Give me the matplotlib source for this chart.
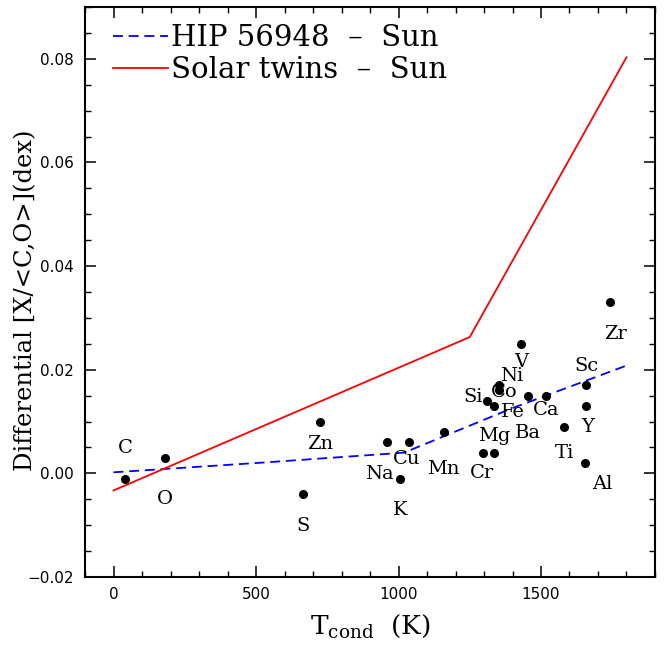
import matplotlib
matplotlib.use('Agg')
import matplotlib.pyplot as plt
from matplotlib.ticker import MultipleLocator, FuncFormatter

# Element abundances vs condensation temperature
elements = ['C', 'O', 'S', 'Zn', 'Na', 'Cu', 'K', 'Mn', 'Cr', 'Mg', 'Si',
            'Fe', 'Co', 'Ni', 'V', 'Ba', 'Ca', 'Ti', 'Sc', 'Y', 'Al', 'Zr']
tcond = [40, 180, 664, 726, 958, 1037, 1006, 1158, 1296, 1336, 1310,
         1334, 1352, 1353, 1429, 1455, 1517, 1582, 1659, 1659, 1653, 1741]
diff = [-0.001, 0.003, -0.004, 0.010, 0.006, 0.006, -0.001, 0.008, 0.004, 0.004, 0.014,
        0.013, 0.016, 0.017, 0.025, 0.015, 0.015, 0.009, 0.017, 0.013, 0.002, 0.033]

# label offsets in points (placement only)
offsets = {'C': (0, 22), 'O': (0, -30), 'S': (0, -23), 'Zn': (0, -16),
           'Na': (-5, -23), 'Cu': (-2, -12), 'K': (0, -23), 'Mn': (0, -27),
           'Cr': (-1, -15), 'Mg': (0, 12), 'Si': (-10, 3), 'Fe': (14, -4),
           'Co': (4, -1), 'Ni': (9, 7), 'V': (0, -13), 'Ba': (0, -27),
           'Ca': (0, -10), 'Ti': (0, -19), 'Sc': (0, 14), 'Y': (1, -15),
           'Al': (13, -15), 'Zr': (4, -23)}

# HIP 56948 - Sun trend
hip_t = [0, 530, 1020, 1400, 1800]
hip_y = [0.0002, 0.0021, 0.0040, 0.0126, 0.0208]

# Solar twins - Sun trend
twin_t = [0, 1250, 1800]
twin_y = [-0.0033, 0.0263, 0.0803]

plt.rcParams['mathtext.fontset'] = 'dejavuserif'

fig = plt.figure(figsize=(6.72, 6.48), dpi=100)
ax = fig.add_axes([0.1265, 0.1096, 0.8482, 0.8796])

ax.plot(hip_t, hip_y, color='blue', lw=1.3, linestyle=(0, (5.5, 3.2)),
        label='HIP 56948  \u2013  Sun')
ax.plot(twin_t, twin_y, color='red', lw=1.3, label='Solar twins  \u2013  Sun')
ax.plot(tcond, diff, 'o', color='black', ms=5.5, ls='none')

for el, t, d in zip(elements, tcond, diff):
    ax.annotate(el, (t, d), xytext=offsets[el], textcoords='offset points',
                ha='center', va='center', fontsize=14, family='DejaVu Serif')

ax.set_xlim(-100, 1900)
ax.set_ylim(-0.02, 0.09)
ax.xaxis.set_major_locator(MultipleLocator(500))
ax.xaxis.set_minor_locator(MultipleLocator(100))
ax.yaxis.set_major_locator(MultipleLocator(0.02))
ax.yaxis.set_minor_locator(MultipleLocator(0.005))
ax.yaxis.set_major_formatter(FuncFormatter(lambda v, p: f'{v:.2f}'.replace('-', '\u2212')))
ax.tick_params(which='both', direction='in', top=True, right=True, labelsize=11)
ax.tick_params(which='major', length=8, width=1.1)
ax.tick_params(which='minor', length=4, width=1.0)
ax.tick_params(axis='x', pad=7)
ax.tick_params(axis='y', pad=8)
for s in ax.spines.values():
    s.set_linewidth(1.5)

ax.set_xlabel(r'T$_{\rm cond}$  (K)', fontsize=19, family='DejaVu Serif', labelpad=8)
ax.set_ylabel('Differential [X/<C,O>](dex)', fontsize=17.5, family='DejaVu Serif')
ax.yaxis.set_label_coords(-0.084, 0.486)

leg = ax.legend(loc='upper left', bbox_to_anchor=(0.049, 0.97), frameon=False,
                prop={'family': 'DejaVu Serif', 'size': 21}, handlelength=1.9,
                handletextpad=0.1, labelspacing=0.15, borderpad=0, borderaxespad=0)

fig.savefig('out.png', dpi=100)
